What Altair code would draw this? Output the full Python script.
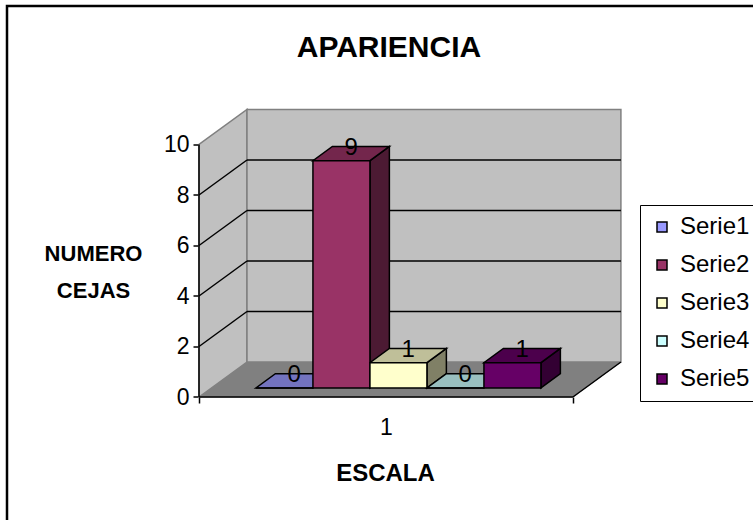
import altair as alt
import pandas as pd

# ---------------- data ----------------
chart_title = "APARIENCIA"
x_title = "ESCALA"
y_title = ["NUMERO", "CEJAS"]
categories = ["1"]
series = ["Serie1", "Serie2", "Serie3", "Serie4", "Serie5"]
values = [0, 9, 1, 0, 1]
y_ticks = [0, 2, 4, 6, 8, 10]

# ---------------- style ----------------
front_colors = ["#9999FF", "#993366", "#FFFFCC", "#CCFFFF", "#660066"]
WALL, FLOOR, EDGE = "#C0C0C0", "#808080", "#808080"
FONT = "Liberation Sans"

DX, DY = 0.842, 1.386      # depth shift of the 3-D box (x: bar widths, y: value units)
D0, D1 = 0.26, 0.665       # depth slab occupied by the bars
M = 0.78                   # floor margin left/right of the bars
YMAX = y_ticks[-1]
PX_X, PX_Y = 57.0, 25.25   # pixels per unit
PLOT_LEFT, PLOT_BOTTOM = 199.0, 397.0
VIEW_W, VIEW_H = 753, 520

n = len(series)
x_dom = [-M, n + M + DX]
y_dom = [0, YMAX + DY]
W = (x_dom[1] - x_dom[0]) * PX_X
H = (y_dom[1] - y_dom[0]) * PX_Y
PLOT_TOP = PLOT_BOTTOM - H


def shade(c, f):
    r, g, b = (int(c[i:i + 2], 16) for i in (1, 3, 5))
    return "#%02x%02x%02x" % (round(r * f), round(g * f), round(b * f))


xs = alt.Scale(domain=x_dom, nice=False, zero=False)
ys = alt.Scale(domain=y_dom, nice=False, zero=False)

mid = n / 2
x_axis = alt.Axis(
    values=[-M, mid, n + M],
    labelExpr=f"datum.value == {mid} ? '{categories[0]}' : ''",
    domain=False, grid=False, tickSize=6, tickWidth=1.5, tickColor="black",
    tickOpacity={"condition": {"test": f"datum.value == {mid}", "value": 0}, "value": 1},
    labelFont=FONT, labelFontSize=23, labelColor="black", labelPadding=13, labelFlush=False,
    title=x_title, titleFont=FONT, titleFontSize=24, titleFontWeight="bold", titleColor="black",
    titleX=385 - PLOT_LEFT, titleY=480 - PLOT_BOTTOM, titleBaseline="alphabetic", titleAlign="center",
)
y_axis = alt.Axis(
    values=y_ticks, domain=False, grid=False, tickSize=6, tickWidth=1.5, tickColor="black",
    labelFont=FONT, labelFontSize=23, labelColor="black", labelPadding=4, labelFlush=False,
    title=y_title, titleAngle=0, titleAlign="center", titleBaseline="alphabetic",
    titleX=93 - PLOT_LEFT, titleY=260 - PLOT_TOP, titleFont=FONT, titleFontSize=22,
    titleFontWeight="bold", titleColor="black", titleLineHeight=37,
)


def X(f="x"):
    return alt.X(f"{f}:Q", scale=xs, axis=x_axis)


def Y(f="y"):
    return alt.Y(f"{f}:Q", scale=ys, axis=y_axis, stack=False)


# ---------------- geometry tables (built from the data) ----------------
floor_df = pd.DataFrame({"x": [-M, -M + DX, n + M, n + M + DX],
                         "y": [0, 0, 0, DY], "y2": [0, DY, DY, DY]})
lwall_df = pd.DataFrame({"x": [-M, -M + DX], "y": [0, DY], "y2": [YMAX, YMAX + DY]})
bwall_df = pd.DataFrame({"x": [-M + DX], "x2": [n + M + DX], "y": [DY], "y2": [YMAX + DY]})

grid_rows = []
for v in y_ticks[1:-1]:
    grid_rows.append({"x": -M + DX, "x2": n + M + DX, "y": v + DY, "y2": v + DY})
    grid_rows.append({"x": -M, "x2": -M + DX, "y": v, "y2": v + DY})
grid_df = pd.DataFrame(grid_rows)

edge_df = pd.DataFrame([
    {"x": -M, "x2": -M, "y": 0, "y2": YMAX},
    {"x": -M, "x2": n + M, "y": 0, "y2": 0},
    {"x": n + M, "x2": n + M + DX, "y": 0, "y2": DY},
])

front_rows, top_rows, side_rows, label_rows = [], [], [], []
for i, (s, v, c) in enumerate(zip(series, values, front_colors)):
    a0, a1 = D0 * DX, D1 * DX
    b0, b1 = D0 * DY, D1 * DY
    front_rows.append({"series": s, "x": i + a0, "x2": i + 1 + a0, "y": b0, "y2": v + b0})
    tc = shade(c, 0.75)
    for xx, y1, y2 in [(i + a0, v + b0, v + b0), (i + a1, v + b0, v + b1),
                       (i + 1 + a0, v + b0, v + b1), (i + 1 + a1, v + b1, v + b1)]:
        top_rows.append({"grp": s, "fill": tc, "x": xx, "y": y1, "y2": y2})
    sc = shade(c, 0.5)
    for xx, y1, y2 in [(i + 1 + a0, b0, v + b0), (i + 1 + a1, b1, v + b1)]:
        side_rows.append({"grp": s, "fill": sc, "x": xx, "y": y1, "y2": y2})
    label_rows.append({"x": i + 0.5 + (D0 + D1) / 2 * DX, "y": v + (D0 + D1) / 2 * DY, "text": str(v)})

front_df = pd.DataFrame(front_rows)
top_df = pd.DataFrame(top_rows)
side_df = pd.DataFrame(side_rows)
label_df = pd.DataFrame(label_rows)

# ---------------- layers ----------------
frame = alt.Chart(pd.DataFrame({"k": [0]})).mark_rect(
    filled=False, stroke="black", strokeWidth=2.5
).encode(
    x=alt.value(7 - PLOT_LEFT), x2=alt.value(VIEW_W + 20 - PLOT_LEFT),
    y=alt.value(6 - PLOT_TOP), y2=alt.value(VIEW_H + 20 - PLOT_TOP),
)

floor = alt.Chart(floor_df).mark_area(color=FLOOR, stroke=EDGE, strokeWidth=1).encode(
    x=X(), y=Y(), y2="y2")
lwall = alt.Chart(lwall_df).mark_area(color=WALL, stroke=EDGE, strokeWidth=1.5).encode(
    x=X(), y=Y(), y2="y2")
bwall = alt.Chart(bwall_df).mark_rect(color=WALL, stroke=EDGE, strokeWidth=1.5).encode(
    x=X(), x2="x2", y=Y(), y2="y2")
grid = alt.Chart(grid_df).mark_rule(color="black", strokeWidth=1.5).encode(
    x=X(), x2="x2", y=Y(), y2="y2")
edges = alt.Chart(edge_df).mark_rule(color="black", strokeWidth=1.5).encode(
    x=X(), x2="x2", y=Y(), y2="y2")

sides = alt.Chart(side_df).mark_area(stroke="black", strokeWidth=1.5, strokeJoin="miter").encode(
    x=X(), y=Y(), y2="y2", detail="grp:N", color=alt.Color("fill:N", scale=None))
tops = alt.Chart(top_df).mark_area(stroke="black", strokeWidth=1.5, strokeJoin="miter").encode(
    x=X(), y=Y(), y2="y2", detail="grp:N", color=alt.Color("fill:N", scale=None))

fronts = alt.Chart(front_df).mark_rect(stroke="black", strokeWidth=1.5).encode(
    x=X(), x2="x2", y=Y(), y2="y2",
    color=alt.Color(
        "series:N",
        scale=alt.Scale(domain=series, range=front_colors),
        legend=alt.Legend(
            title=None, orient="none", legendX=640 - PLOT_LEFT, legendY=205 - PLOT_TOP,
            strokeColor="black", fillColor="white", padding=10, cornerRadius=0,
            symbolType="square", symbolSize=100, symbolStrokeColor="black", symbolStrokeWidth=1.5,
            labelFont=FONT, labelFontSize=24, labelColor="black", labelOffset=6, rowPadding=14,
        ),
    ),
)

labels = alt.Chart(label_df).mark_text(
    font=FONT, fontSize=24, color="black", align="center", baseline="alphabetic", dy=1
).encode(x=X(), y=Y(), text="text:N")

chart = alt.layer(
    frame, floor, lwall, bwall, grid, edges, sides, tops, fronts, labels
).properties(
    width=W, height=H,
    title=alt.TitleParams(
        text=chart_title, font=FONT, fontSize=30, fontWeight="bold", color="black",
        anchor="middle", frame="group", baseline="alphabetic", offset=0, dx=-21, dy=82,
    ),
    autosize=alt.AutoSizeParams(type="none"),
    padding={"left": PLOT_LEFT, "top": PLOT_TOP,
             "right": VIEW_W - PLOT_LEFT - W, "bottom": VIEW_H - PLOT_TOP - H},
    background="white",
).configure_view(strokeWidth=0)

chart.save("out.html", embed_options={"renderer": "svg", "actions": False})
